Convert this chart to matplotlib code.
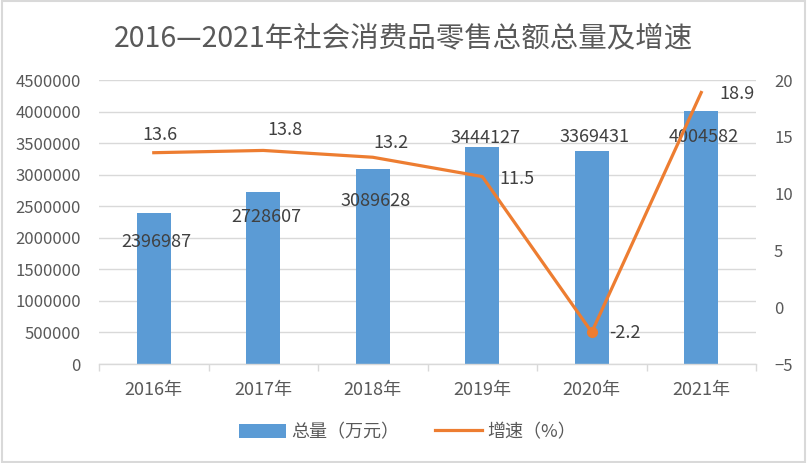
import matplotlib
matplotlib.use("Agg")
import matplotlib.pyplot as plt
from matplotlib.ticker import FuncFormatter, FixedLocator, NullFormatter
from matplotlib.patches import Rectangle

plt.rcParams['font.family'] = ['Noto Sans CJK SC', 'DejaVu Sans']

categories = ['2016年', '2017年', '2018年', '2019年', '2020年', '2021年']
totals = [2396987, 2728607, 3089628, 3444127, 3369431, 4004582]
growth = [13.6, 13.8, 13.2, 11.5, -2.2, 18.9]
title = '2016—2021年社会消费品零售总额总量及增速'
bar_label = '总量（万元）'
line_label = '增速（%）'

BLUE = '#5B9BD5'
ORANGE = '#ED7D31'
GRID = '#D9D9D9'
TICK = '#595959'
LABEL = '#404040'

fig = plt.figure(figsize=(8.07, 4.63), dpi=100)
ax = fig.add_axes([0.1227, 0.2138, 0.9368 - 0.1227, 0.8272 - 0.2138])
x = list(range(len(categories)))

bars = ax.bar(x, totals, width=0.31, color=BLUE, label=bar_label, zorder=2)
ax.set_xlim(-0.5, len(categories) - 0.5)
ax.set_ylim(0, 4500000)
ax.set_yticks(range(0, 4500001, 500000))
ax.yaxis.set_major_formatter(FuncFormatter(lambda v, p: f'{int(v)}'))
ax.grid(axis='y', color=GRID, linewidth=1, zorder=0)
ax.set_axisbelow(True)
for s in ['top', 'right', 'left']:
    ax.spines[s].set_visible(False)
ax.spines['bottom'].set_color(GRID)
ax.spines['bottom'].set_linewidth(1)
ax.set_xticks(x)
ax.set_xticklabels(categories)
ax.xaxis.set_minor_locator(FixedLocator([i - 0.5 for i in range(len(categories) + 1)]))
ax.xaxis.set_minor_formatter(NullFormatter())
ax.tick_params(axis='x', which='major', length=0, pad=12, labelsize=13, labelcolor=TICK)
ax.tick_params(axis='x', which='minor', length=5, color=GRID, width=1)
ax.tick_params(axis='y', length=0, pad=13, labelsize=12, labelcolor=TICK)

bar_offsets = [-21, -18, -22.8, 6.5, 10, -18.7]
for xi, v, dy in zip(x, totals, bar_offsets):
    ax.annotate(f'{v}', (xi, v), xytext=(2, dy), textcoords='offset points',
                ha='center', va='center', fontsize=13, color=LABEL, zorder=3)

ax2 = ax.twinx()
ax2.set_ylim(-5, 20)
ax2.set_yticks(range(-5, 21, 5))
for s in ['top', 'right', 'left', 'bottom']:
    ax2.spines[s].set_visible(False)
ax2.tick_params(axis='y', length=0, pad=13, labelsize=12, labelcolor=TICK)
line, = ax2.plot(x, growth, color=ORANGE, linewidth=2.3, label=line_label, zorder=3)
ax2.plot([x[4]], [growth[4]], marker='o', markersize=7, color=ORANGE, zorder=4)

offsets = [(4.5, 12.7, 'center'), (15.8, 14.7, 'center'), (13, 10.4, 'center'),
           (12.5, -1.5, 'left'), (12.6, -0.7, 'left'), (13, -1.2, 'left')]
for xi, g, (dx, dy, ha) in zip(x, growth, offsets):
    ax2.annotate(f'{g}', (xi, g), xytext=(dx, dy), textcoords='offset points',
                 ha=ha, va='center', fontsize=13, color=LABEL, zorder=5)

fig.text(0.5, 0.918, title, ha='center', va='center', fontsize=20.5, color=TICK)

fig.legend(handles=[bars, line], labels=[bar_label, line_label],
           loc='center', bbox_to_anchor=(0.505, 0.067), ncol=2, frameon=False,
           fontsize=13, labelcolor=TICK, handlelength=2.6, handleheight=0.85,
           columnspacing=2.0, handletextpad=0.3)

fig.add_artist(Rectangle((0.002, 0.003), 0.996, 0.994, transform=fig.transFigure,
                         fill=False, edgecolor=GRID, linewidth=1.5))

fig.savefig('out.png', dpi=100, facecolor='white')
